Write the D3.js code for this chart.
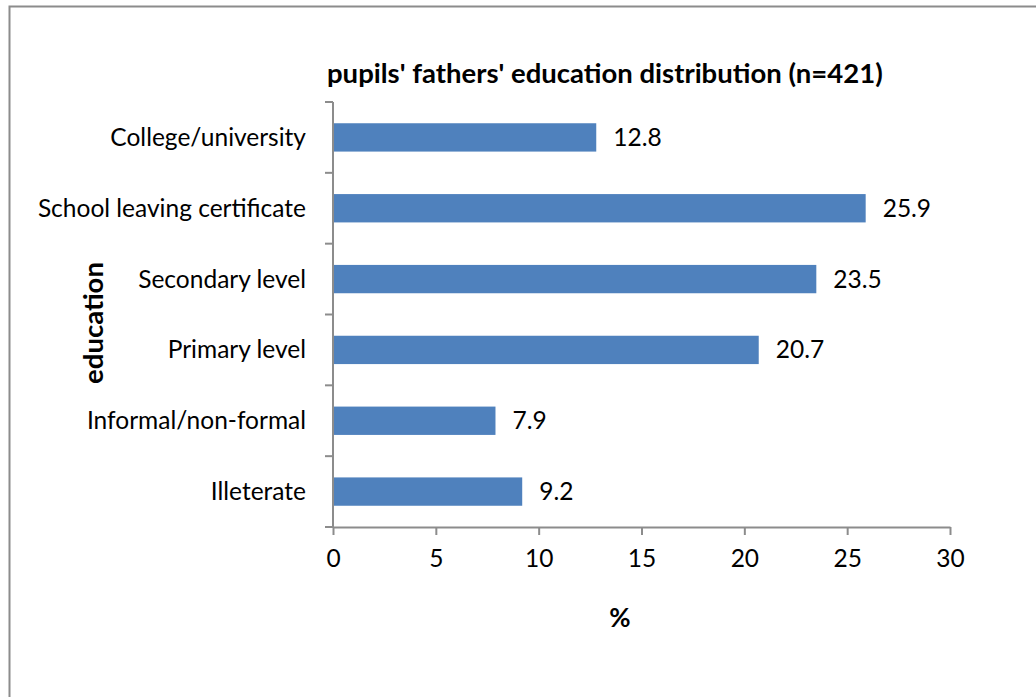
<!DOCTYPE html>
<html><head><meta charset="utf-8">
<script src="https://cdn.jsdelivr.net/npm/d3@7"></script>
<style>body{margin:0;background:#fff;}svg{display:block;}</style>
</head><body>
<svg id="c" width="1036" height="697"></svg>
<script>
const categories = ["College/university","School leaving certificate","Secondary level","Primary level","Informal/non-formal","Illeterate"];
const values = [12.8, 25.9, 23.5, 20.7, 7.9, 9.2];
const xTicks = [0,5,10,15,20,25,30];
const title = "pupils' fathers' education distribution (n=421)";
const xTitle = "%";
const yTitle = "education";

const svg = d3.select("#c");
const font = "Lato, 'Open Sans', sans-serif";
const fs = 24.5;
const L = 333, R = 950, T = 102, B = 527;

// outer border (top & left only visible)
svg.append("path").attr("d","M9.5,697 L9.5,6.5 L1036,6.5").attr("fill","none").attr("stroke","#8c8c8c").attr("stroke-width",2);

const x = d3.scaleLinear().domain([0,30]).range([L,R]);
const y = d3.scaleBand().domain(categories).range([T,B]).paddingInner(0.6).paddingOuter(0.3);
const yb = d3.scaleBand().domain(categories).range([T,B]);

svg.selectAll("rect.bar").data(values).enter().append("rect")
  .attr("class","bar")
  .attr("x", x(0)).attr("y",(d,i)=>y(categories[i]))
  .attr("width", d=>x(d)-x(0)).attr("height", y.bandwidth())
  .attr("fill","#4f81bd");

svg.selectAll("text.val").data(values).enter().append("text")
  .attr("x", d=>x(d)+17).attr("y",(d,i)=>y(categories[i])+y.bandwidth()/2+8.5)
  .attr("font-family",font).attr("font-size",fs).attr("fill","#000")
  .text(d=>d.toFixed(1));

// x axis
const xa = svg.append("g").attr("transform",`translate(0,${B})`)
  .call(d3.axisBottom(x).tickValues(xTicks).tickSize(8).tickSizeOuter(0).tickPadding(15));
xa.select(".domain").attr("stroke","#8c8c8c").attr("stroke-width",2);
xa.selectAll(".tick line").attr("stroke","#8c8c8c").attr("stroke-width",2);
xa.selectAll(".tick text").attr("font-family",font).attr("font-size",fs).attr("fill","#000");

// y axis
const ya = svg.append("g").attr("transform",`translate(${L},0)`);
ya.append("line").attr("x1",0).attr("x2",0).attr("y1",T).attr("y2",B).attr("stroke","#8c8c8c").attr("stroke-width",2);
const bounds = categories.map(c=>yb(c)).concat([B]);
ya.selectAll("line.tk").data(bounds).enter().append("line")
  .attr("x1",-8).attr("x2",0).attr("y1",d=>d).attr("y2",d=>d)
  .attr("stroke","#8c8c8c").attr("stroke-width",2);
ya.selectAll("text.cat").data(categories).enter().append("text")
  .attr("x",-27).attr("y",c=>yb(c)+yb.bandwidth()/2+8.5)
  .attr("text-anchor","end").attr("font-family",font).attr("font-size",fs).attr("fill","#000")
  .text(c=>c);

svg.append("text").attr("x",327).attr("y",83).attr("font-family",font).attr("font-size",27.5)
  .attr("font-weight","bold").text(title);
svg.append("text").attr("x",620).attr("y",627).attr("text-anchor","middle").attr("font-family",font)
  .attr("font-size",26).attr("font-weight","bold").text(xTitle);
svg.append("text").attr("transform","translate(103,323) rotate(-90)").attr("text-anchor","middle")
  .attr("font-family",font).attr("font-size",27.5).attr("font-weight","bold").text(yTitle);
</script>
</body></html>
